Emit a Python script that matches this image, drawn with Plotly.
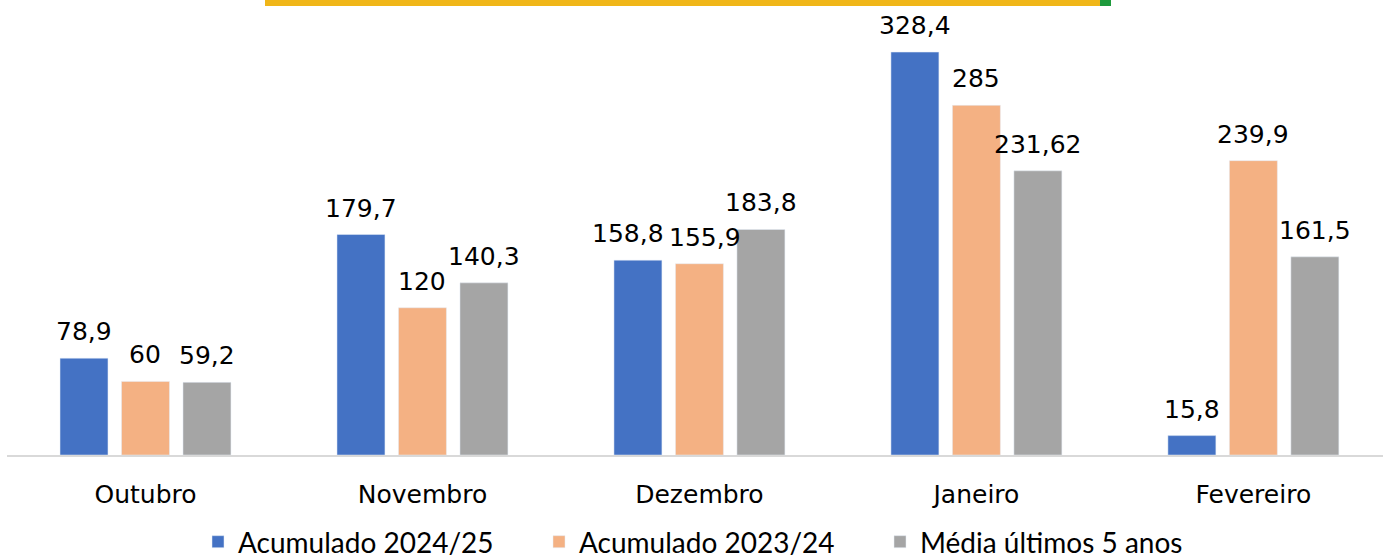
import plotly.graph_objects as go

categories = ["Outubro", "Novembro", "Dezembro", "Janeiro", "Fevereiro"]
acum_2024_25 = [78.9, 179.7, 158.8, 328.4, 15.8]
acum_2023_24 = [60, 120, 155.9, 285, 239.9]
media_5_anos = [59.2, 140.3, 183.8, 231.62, 161.5]
series_names = ["Acumulado 2024/25", "Acumulado 2023/24", "Média últimos 5 anos"]
colors = ["#4472C4", "#F4B183", "#A5A5A5"]

def fmt(v):
    return str(v).replace(".", ",")

# small manual label nudges (px) to avoid overlapping labels, as in the original
label_nudge = {(0, "Dezembro"): -10, (1, "Dezembro"): 6}

fig = go.Figure()
annotations = []
series = [acum_2024_25, acum_2023_24, media_5_anos]
offsets = [-61.5, 0, 61.5]
for i, (name, vals, col, off) in enumerate(zip(series_names, series, colors, offsets)):
    fig.add_trace(go.Bar(
        x=categories, y=vals, name=name, marker_color=col,
    ))
    for c, v in zip(categories, vals):
        annotations.append(dict(
            x=c, y=v, xref="x", yref="y", text=fmt(v), showarrow=False,
            xanchor="center", yanchor="bottom",
            xshift=off + label_nudge.get((i, c), 0), yshift=10,
            font=dict(size=25, color="#000000", family="DejaVu Sans"),
        ))

fig.update_layout(
    width=1383, height=559,
    margin=dict(l=7, r=0, t=10, b=104, autoexpand=False),
    paper_bgcolor="white", plot_bgcolor="white",
    barmode="group", bargap=0.334, bargroupgap=0.22,
    showlegend=True,
    legend=dict(orientation="h", x=0.5 + 18 / 1383, xanchor="center", xref="container",
                y=(559 - 542) / 559, yanchor="middle", yref="container",
                font=dict(size=28, family="Lato", color="#000000"),
                itemwidth=30, traceorder="normal", entrywidth=296, entrywidthmode="pixels"),
    xaxis=dict(range=[-0.5, 4.468], showgrid=False, showline=True, linecolor="#D9D9D9",
               linewidth=1.5, ticks="", tickfont=dict(size=25, family="DejaVu Sans", color="#000000"),
               ticklabelstandoff=16, automargin=False),
    yaxis=dict(range=[0, 362.7], visible=False),
    annotations=annotations,
    shapes=[
        dict(type="rect", xref="paper", yref="paper", x0=(265-7)/1376, x1=(1100-7)/1376,
             y0=1+10/445, y1=1+(10-6)/445, fillcolor="#F0B618", line_width=0),
        dict(type="rect", xref="paper", yref="paper", x0=(1100-7)/1376, x1=(1111-7)/1376,
             y0=1+10/445, y1=1+(10-6)/445, fillcolor="#1E9A3C", line_width=0),
    ],
)

fig.write_html("out.html", config={"displayModeBar": False},
               post_script="document.body.style.margin='0';")
